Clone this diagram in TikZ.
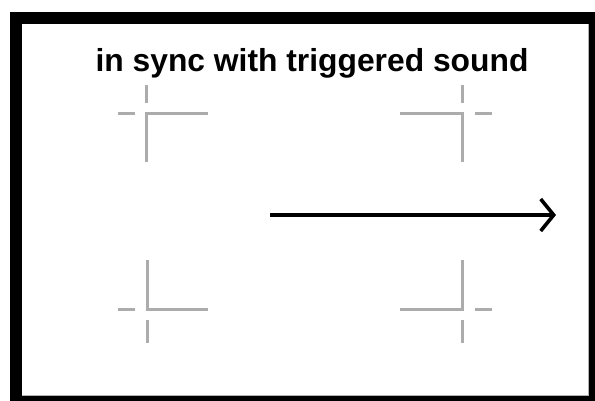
\documentclass[tikz,border=0pt]{standalone}
\usepackage{fontspec}
\setmainfont{Liberation Sans}
\usetikzlibrary{arrows.meta}
\begin{document}
\begin{tikzpicture}[x=1pt,y=-1pt,
  cropmark/.style={draw={rgb,255:red,172;green,172;blue,172},line width=3pt},
  mainarrow/.style={draw=black,line width=3.6pt,-{Straight Barb[length=13pt,width=32pt,line width=3.6pt]}}]
\useasboundingbox (0,0) rectangle (595,400);
\clip (0,0) rectangle (595,400);
% frame
\fill[black] (10,12) rectangle (600,405);
\fill[white] (22,24) rectangle (588,395);
\draw[gray!60,line width=0.8pt] (588,24) -- (588,395) -- (22,395);
% title
\node[anchor=base,inner sep=0pt,font=\bfseries\fontsize{31.8}{38}\selectfont] (title) at (312,71) {in sync with triggered sound};
% crop marks top-left
\draw[cropmark] (146,162) -- (146,113) -- (208,113);
\draw[cropmark] (146,85) -- (146,103);
\draw[cropmark] (118,113) -- (135,113);
% top-right
\draw[cropmark] (400,113) -- (462,113) -- (462,162);
\draw[cropmark] (462,85) -- (462,103);
\draw[cropmark] (475,113) -- (492,113);
% bottom-left
\draw[cropmark] (147,260) -- (147,309) -- (208,309);
\draw[cropmark] (118,309) -- (135,309);
\draw[cropmark] (147,320) -- (147,343);
% bottom-right
\draw[cropmark] (462,260) -- (462,309) -- (400,309);
\draw[cropmark] (475,309) -- (492,309);
\draw[cropmark] (462,320) -- (462,343);
% arrow
\coordinate (a0) at (270,215);
\coordinate (a1) at (556,215);
\draw[mainarrow] (a0) -- (a1);
\end{tikzpicture}
\end{document}
